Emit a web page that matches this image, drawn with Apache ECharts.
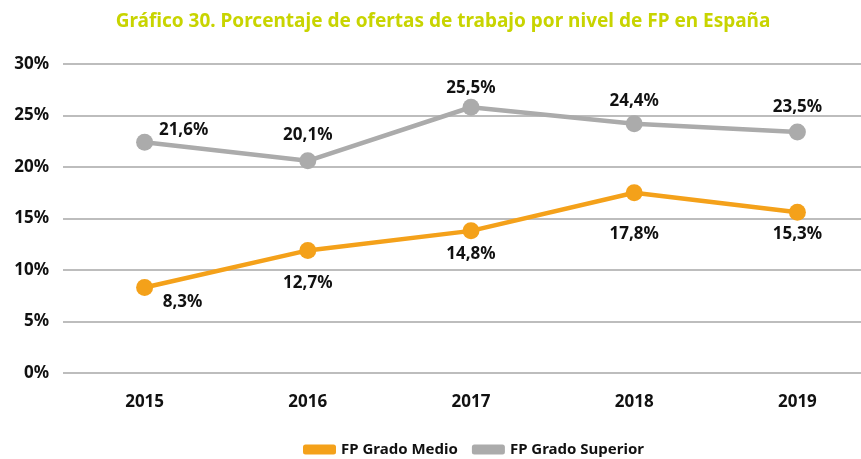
<!DOCTYPE html>
<html><head><meta charset="utf-8">
<script src="https://cdn.jsdelivr.net/npm/echarts@6/dist/echarts.min.js"></script>
<style>html,body{margin:0;padding:0;background:#fff;overflow:hidden;width:861px;height:459px}#c{width:880px;height:459px}</style>
</head><body><div id="c"></div>
<script>
const years = ['2015','2016','2017','2018','2019'];
const medio = [8.3, 11.9, 13.8, 17.5, 15.6];
const superior = [22.4, 20.6, 25.8, 24.2, 23.4];
const medioLabels = ['8,3%','12,7%','14,8%','17,8%','15,3%'];
const superiorLabels = ['21,6%','20,1%','25,5%','24,4%','23,5%'];
const yTicks = [0,5,10,15,20,25,30];

const medioOffsets = [[38,15],[0,33],[0,23],[0,41],[0,22]];
const superiorOffsets = [[39,-12],[0,-26],[0,-19],[0,-23],[0,-25]];

const FONT = 'Noto Sans';
function mk(vals, labels, offs){
  return vals.map((v,i)=>({value:v, label:{formatter:labels[i], offset:offs[i]}}));
}
const chart = echarts.init(document.getElementById('c'), null, {renderer:'canvas'});
chart.setOption({
  animation:false,
  title:{text:'Gráfico 30. Porcentaje de ofertas de trabajo por nivel de FP en España', left:438, top:7, textAlign:'center',
    textStyle:{color:'#C8D400', fontFamily:FONT, fontWeight:'bold', fontSize:19}},
  grid:{left:63, top:64, right:1, bottom:86, containLabel:false},
  xAxis:{type:'category', data:years, boundaryGap:true,
    axisLine:{show:false}, axisTick:{show:false},
    axisLabel:{color:'#111', fontFamily:FONT, fontWeight:'bold', fontSize:17, margin:21}},
  yAxis:{type:'value', min:0, max:30, interval:5,
    axisLabel:{formatter:v=>v+'%', color:'#111', fontFamily:FONT, fontWeight:'bold', fontSize:17, margin:14},
    splitLine:{lineStyle:{color:'#BDBDBD', width:2}}, axisLine:{show:false}, axisTick:{show:false}},
  legend:{left:298, top:437, itemWidth:33, itemHeight:10, itemGap:14, icon:'roundRect',
    textStyle:{color:'#111', fontFamily:FONT, fontWeight:'bold', fontSize:15},
    data:['FP Grado Medio','FP Grado Superior']},
  series:[
    {name:'FP Grado Medio', type:'line', data:mk(medio, medioLabels, medioOffsets),
     symbol:'circle', symbolSize:17, color:'#F4A11A', lineStyle:{width:4.5, color:'#F4A11A'},
     itemStyle:{color:'#F4A11A'},
     label:{show:true, position:'inside', color:'#111', fontFamily:FONT, fontWeight:'bold', fontSize:17}},
    {name:'FP Grado Superior', type:'line', data:mk(superior, superiorLabels, superiorOffsets),
     symbol:'circle', symbolSize:17, color:'#ABABAB', lineStyle:{width:4.5, color:'#ABABAB'},
     itemStyle:{color:'#ABABAB'},
     label:{show:true, position:'inside', color:'#111', fontFamily:FONT, fontWeight:'bold', fontSize:17}}
  ]
});
</script></body></html>
